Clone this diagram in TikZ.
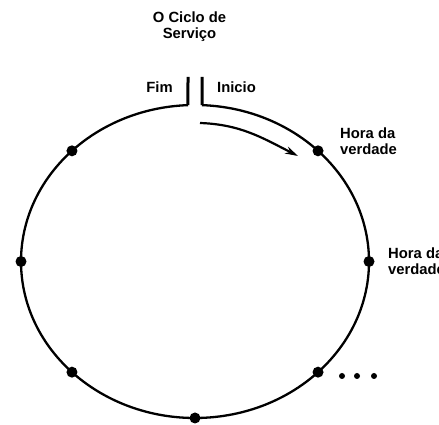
\documentclass[tikz,border=0pt]{standalone}
\usepackage{fontspec}
\setmainfont{Liberation Sans}
\usetikzlibrary{arrows.meta}

\tikzset{
  txt/.style={font=\bfseries\fontsize{14.8}{15.5}\selectfont, inner sep=0pt},
  moment/.style={circle, fill=black, inner sep=0pt, minimum size=11pt},
  etcdot/.style={circle, fill=black, inner sep=0pt, minimum size=6pt},
  ring/.style={line width=2.3pt},
}

\begin{document}
\begin{tikzpicture}[x=1pt,y=1pt]
  \useasboundingbox (0,0) rectangle (439,425);
  % centre of the cycle
  \coordinate (c) at (195,163.5);
  % the ring, open at the top
  \path (c) ++(92.31:174pt and 156.5pt) coordinate (fimEnd);
  \path (c) ++(87.69:174pt and 156.5pt) coordinate (inicioEnd);
  \coordinate (fimTop) at (188,348);
  \coordinate (inicioTop) at (202,348);
  \draw[ring] (fimEnd)
    arc[start angle=92.31, end angle=447.69, x radius=174pt, y radius=156.5pt];
  \draw[line width=3pt] (fimTop) -- (fimEnd);
  \draw[line width=3pt] (inicioTop) -- (inicioEnd);
  % moments of truth
  \foreach \a in {0,45,135,180,225,270,315}
    \path (c) ++(\a:174pt and 156.5pt) node[moment] (m\a) {};
  % direction of the cycle
  \coordinate (arrS) at (200,302);
  \coordinate (arrE) at (298,269);
  \draw[line width=2.2pt, -{Stealth[length=13pt,width=7.5pt]}] (arrS) to[out=-2,in=153] (arrE);
  % texts
  \node[txt, align=center, anchor=north] (title) at (189.5,413) {O Ciclo de\\Serviço};
  \node[txt, anchor=base] (fim) at (159.5,332) {Fim};
  \node[txt, anchor=base] (inicio) at (236.5,332) {Inicio};
  \node[txt, align=left, anchor=north west] (hora1) at (340,297) {Hora da\\verdade};
  \node[txt, align=left, anchor=north west] (hora2) at (388,177) {Hora da\\verdade};
  % and so on
  \foreach \x [count=\i] in {342,357,374}
    \node[etcdot] (etc\i) at (\x,49) {};
\end{tikzpicture}
\end{document}
